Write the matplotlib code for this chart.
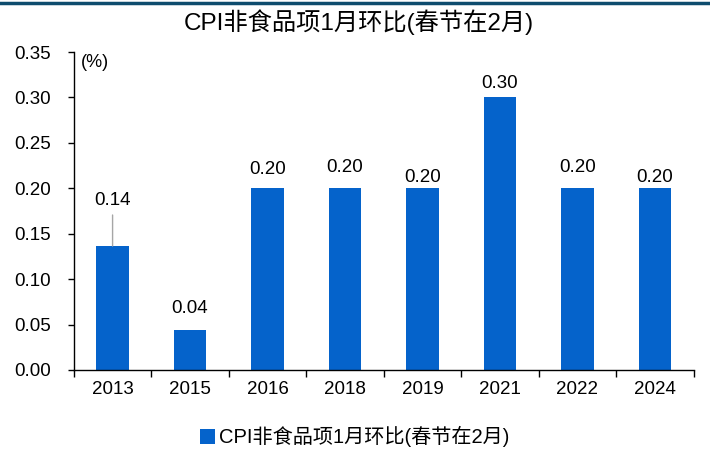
import matplotlib.pyplot as plt
import numpy as np

plt.rcParams['font.family'] = ['Liberation Sans', 'Noto Sans CJK SC']

years = ['2013', '2015', '2016', '2018', '2019', '2021', '2022', '2024']
values = [0.1365, 0.044, 0.20, 0.20, 0.20, 0.30, 0.20, 0.20]
labels = ['0.14', '0.04', '0.20', '0.20', '0.20', '0.30', '0.20', '0.20']
title = 'CPI非食品项1月环比(春节在2月)'

# label offset above bar top, in pixels
label_off = [45, 22, 19, 21, 11, 14, 21, 11]

fig = plt.figure(figsize=(7.1, 4.49), dpi=100)
ax = fig.add_axes([0.104, 0.176, 0.873, 0.708])

x = np.arange(len(years))
ax.bar(x, values, width=0.42, color='#0563CB', label=title, zorder=2)

for i, (v, lab, off) in enumerate(zip(values, labels, label_off)):
    if i == 0:
        ax.annotate('', xy=(i, v), xytext=(0, 31), textcoords='offset pixels',
                    arrowprops=dict(arrowstyle='-', color='#A6A6A6', lw=1,
                                    shrinkA=0, shrinkB=0))
    ax.annotate(lab, xy=(i, v), xytext=(0, off), textcoords='offset pixels',
                ha='center', va='center', fontsize=13.5)

ax.set_xlim(-0.5, len(years) - 0.5)
ax.set_ylim(0, 0.35)
yt = np.arange(0, 0.351, 0.05)
ax.set_yticks(yt)
ax.set_yticklabels([f'{t:.2f}' for t in yt], fontsize=13.5)
ax.set_xticks(x)
ax.set_xticklabels(years, fontsize=13.5)
ax.set_xticks(np.arange(-0.5, len(years), 1), minor=True)
ax.tick_params(axis='x', which='major', length=0, pad=8)
ax.tick_params(axis='x', which='minor', length=5, width=1)
ax.tick_params(axis='y', length=4.5, width=1, pad=12)

for s in ['top', 'right']:
    ax.spines[s].set_visible(False)
for s in ['left', 'bottom']:
    ax.spines[s].set_linewidth(1)

ax.text(0.012, 0.995, '(%)', transform=ax.transAxes, ha='left', va='top', fontsize=13)
fig.text(0.506, 0.951, title, ha='center', va='center', fontsize=17.5)

fig.legend(loc='center', bbox_to_anchor=(0.5, 0.027), frameon=False,
           fontsize=14.5, handlelength=0.75, handleheight=0.75, handletextpad=0.2)

fig.add_artist(plt.Line2D([0, 1], [0.994, 0.994], transform=fig.transFigure,
                          color='#0E4C6E', lw=2.5))

fig.savefig('out.png', dpi=100)
